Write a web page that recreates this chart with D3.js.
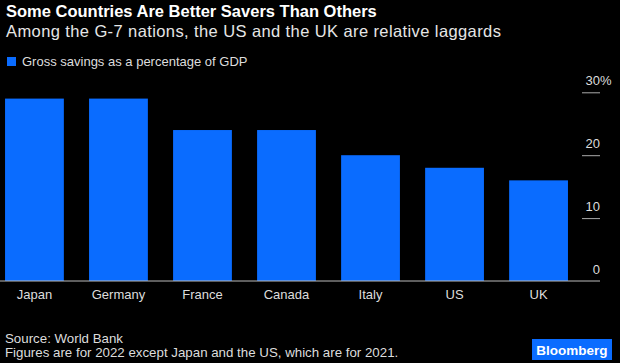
<!DOCTYPE html>
<html>
  <head>
    <meta charset="utf-8">
    <script src="https://d3js.org/d3.v7.min.js"></script>
    <style>
      body { margin: 0; background: #000; }
      svg { display: block; font-family: 'Liberation Sans', Arial, sans-serif; }
      .domain { display: none; }
    </style>
  </head>
  <body>
    <svg width="620" height="363"></svg>
    <script>
      const countries = ['Japan', 'Germany', 'France', 'Canada', 'Italy', 'US', 'UK'];
      const savings = [29, 29, 24, 24, 20, 18, 16];
      const yTicks = [0, 10, 20, 30];

      const svg = d3.select('svg');
      const width = +svg.attr('width');
      const height = +svg.attr('height');
      const blue = '#0a6cff';

      svg.append('rect').attr('width', width).attr('height', height).attr('fill', '#000');

      svg.append('text')
          .attr('x', 6).attr('y', 17)
          .attr('fill', '#fff')
          .style('font-size', '16.5px').style('font-weight', 'bold')
          .text('Some Countries Are Better Savers Than Others');

      svg.append('text')
          .attr('x', 6).attr('y', 37)
          .attr('fill', '#e6e6e6')
          .style('font-size', '16.5px')
          .style('letter-spacing', '0.4px')
          .text('Among the G-7 nations, the US and the UK are relative laggards');

      // legend
      svg.append('rect')
          .attr('x', 7).attr('y', 57).attr('width', 9).attr('height', 9)
          .attr('fill', blue);
      svg.append('text')
          .attr('x', 22).attr('y', 66)
          .attr('fill', '#ddd')
          .style('font-size', '13px')
          .text('Gross savings as a percentage of GDP');

      const x = d3.scaleBand()
          .domain(countries)
          .range([0, 573])
          .paddingInner(0.3)
          .paddingOuter(0.06);

      const y = d3.scaleLinear()
          .domain([0, 30])
          .range([281, 92.3]);

      svg.append('g').selectAll('rect')
        .data(countries)
        .enter().append('rect')
          .attr('x', d => x(d))
          .attr('width', x.bandwidth())
          .attr('y', (d, i) => y(savings[i]))
          .attr('height', (d, i) => y(0) - y(savings[i]))
          .attr('fill', blue);

      // baseline
      svg.append('line')
          .attr('x1', 0).attr('x2', 600)
          .attr('y1', y(0)).attr('y2', y(0))
          .attr('stroke', '#bbb').attr('stroke-width', 1);

      const xAxisG = svg.append('g')
          .attr('transform', `translate(0,${y(0)})`)
          .call(d3.axisBottom(x).tickSize(0).tickPadding(9));
      xAxisG.selectAll('text')
          .attr('fill', '#ddd')
          .style('font-size', '13px')
          .style('font-family', "'Liberation Sans', Arial, sans-serif");

      const yAxisG = svg.append('g')
          .attr('transform', 'translate(582,0)')
          .call(d3.axisRight(y).tickValues(yTicks).tickSize(18).tickFormat(d3.format('d')));
      yAxisG.selectAll('.tick line')
          .attr('stroke', '#aaa')
          .attr('display', d => d === 0 ? 'none' : null);
      yAxisG.selectAll('.tick text')
          .attr('x', 18).attr('dy', -8)
          .attr('text-anchor', 'end')
          .attr('fill', '#ddd')
          .style('font-size', '13px')
          .style('font-family', "'Liberation Sans', Arial, sans-serif");
      yAxisG.selectAll('.tick')
        .filter(d => d === 30)
        .append('text')
          .attr('x', 18).attr('dy', -8)
          .attr('text-anchor', 'start')
          .attr('fill', '#ddd')
          .style('font-size', '13px')
          .style('font-family', "'Liberation Sans', Arial, sans-serif")
          .text('%');

      // footer
      svg.append('text')
          .attr('x', 5).attr('y', 342.5)
          .attr('fill', '#ddd')
          .style('font-size', '13.3px')
          .text('Source: World Bank');
      svg.append('text')
          .attr('x', 5).attr('y', 356.5)
          .attr('fill', '#ddd')
          .style('font-size', '13.3px')
          .text('Figures are for 2022 except Japan and the US, which are for 2021.');

      svg.append('rect')
          .attr('x', 532).attr('y', 339).attr('width', 80).attr('height', 21)
          .attr('fill', blue);
      svg.append('text')
          .attr('x', 572).attr('y', 354.5)
          .attr('text-anchor', 'middle')
          .attr('fill', '#fff')
          .style('font-size', '13.5px').style('font-weight', 'bold')
          .text('Bloomberg');
    </script>
  </body>
</html>
